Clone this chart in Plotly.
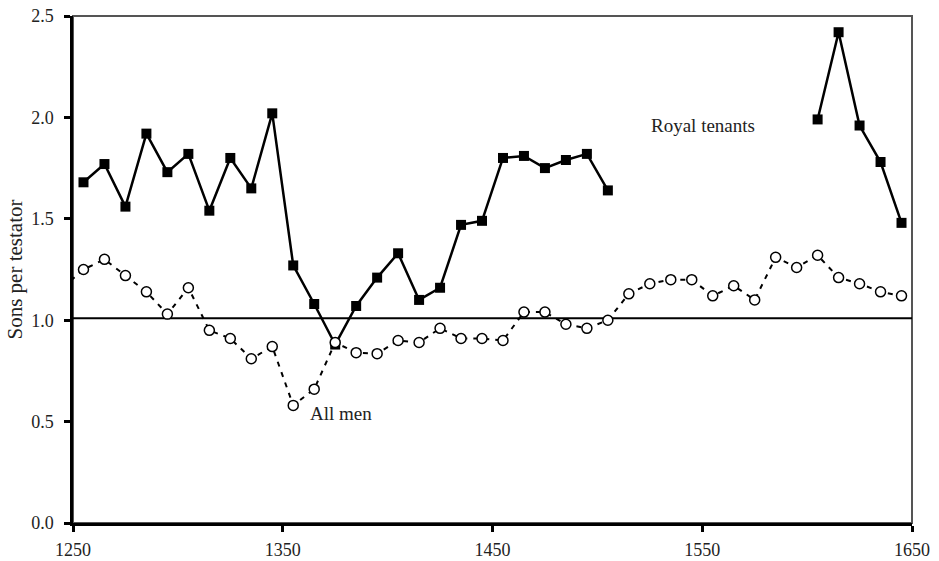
import plotly.graph_objects as go

# decade mid-points
years_all_men = list(range(1245, 1650, 10))
all_men = [1.16, 1.25, 1.30, 1.22, 1.14, 1.03, 1.16, 0.95, 0.91, 0.81,
           0.87, 0.58, 0.66, 0.89, 0.84, 0.835, 0.90, 0.89, 0.96, 0.91,
           0.91, 0.90, 1.04, 1.04, 0.98, 0.96, 1.00, 1.13, 1.18, 1.20,
           1.20, 1.12, 1.17, 1.10, 1.31, 1.26, 1.32, 1.21, 1.18, 1.14, 1.12]

years_royal = list(range(1255, 1650, 10))
royal_tenants = [1.68, 1.77, 1.56, 1.92, 1.73, 1.82, 1.54, 1.80, 1.65, 2.02,
                 1.27, 1.08, 0.88, 1.07, 1.21, 1.33, 1.10, 1.16, 1.47, 1.49,
                 1.80, 1.81, 1.75, 1.79, 1.82, 1.64,
                 None, None, None, None, None, None, None, None, None,
                 1.99, 2.42, 1.96, 1.78, 1.48]

x_ticks = [1250, 1350, 1450, 1550, 1650]
y_ticks = [0.0, 0.5, 1.0, 1.5, 2.0, 2.5]
replacement_level = 1.01

font_family = "Liberation Serif"

fig = go.Figure()

fig.add_trace(go.Scatter(
    x=years_royal, y=royal_tenants,
    mode="lines+markers",
    line=dict(color="black", width=2.5),
    marker=dict(symbol="square", size=10, color="black"),
    showlegend=False))

fig.add_trace(go.Scatter(
    x=years_all_men, y=all_men,
    mode="lines+markers",
    line=dict(color="black", width=2, dash="5px,6px"),
    marker=dict(symbol="circle", size=10, color="white",
                line=dict(color="black", width=1.5)),
    showlegend=False))

# frame (top/right in grey) and the 1.0 reference line
fig.add_shape(type="rect", xref="paper", yref="paper", x0=0, x1=1, y0=0, y1=1,
              line=dict(color="#555555", width=2), layer="below")
fig.add_shape(type="line", xref="paper", yref="y", x0=0, x1=1,
              y0=replacement_level, y1=replacement_level,
              line=dict(color="black", width=2), layer="below")

fig.add_annotation(x=1550.5, y=1.96, text="Royal tenants", showarrow=False,
                   font=dict(size=19, color="#222222", family=font_family))
fig.add_annotation(x=1378, y=0.54, text="All men", showarrow=False,
                   font=dict(size=19, color="#222222", family=font_family))

fig.update_layout(
    width=939, height=561,
    margin=dict(l=73, r=27, t=16, b=38),
    paper_bgcolor="white", plot_bgcolor="white",
    font=dict(family=font_family, size=18, color="#222222"))

fig.update_xaxes(
    range=[1250, 1650], tickvals=x_ticks, automargin=False,
    showgrid=False, zeroline=False,
    showline=True, linecolor="black", linewidth=2.5,
    ticks="outside", ticklen=6, tickwidth=2.5, tickcolor="black",
    ticklabelstandoff=3)

fig.update_yaxes(
    range=[0, 2.5], tickvals=y_ticks, tickformat=".1f", automargin=False,
    showgrid=False, zeroline=False,
    showline=True, linecolor="black", linewidth=2.5,
    ticks="outside", ticklen=6, tickwidth=2.5, tickcolor="black",
    ticklabelstandoff=7,
    title=dict(text="Sons per testator", font=dict(size=21), standoff=3))

# drop the browser's default 8px body margin so the figure fills the window
fig.write_html("out.html", config={"displayModeBar": False},
               post_script="document.body.style.margin = '0';")
